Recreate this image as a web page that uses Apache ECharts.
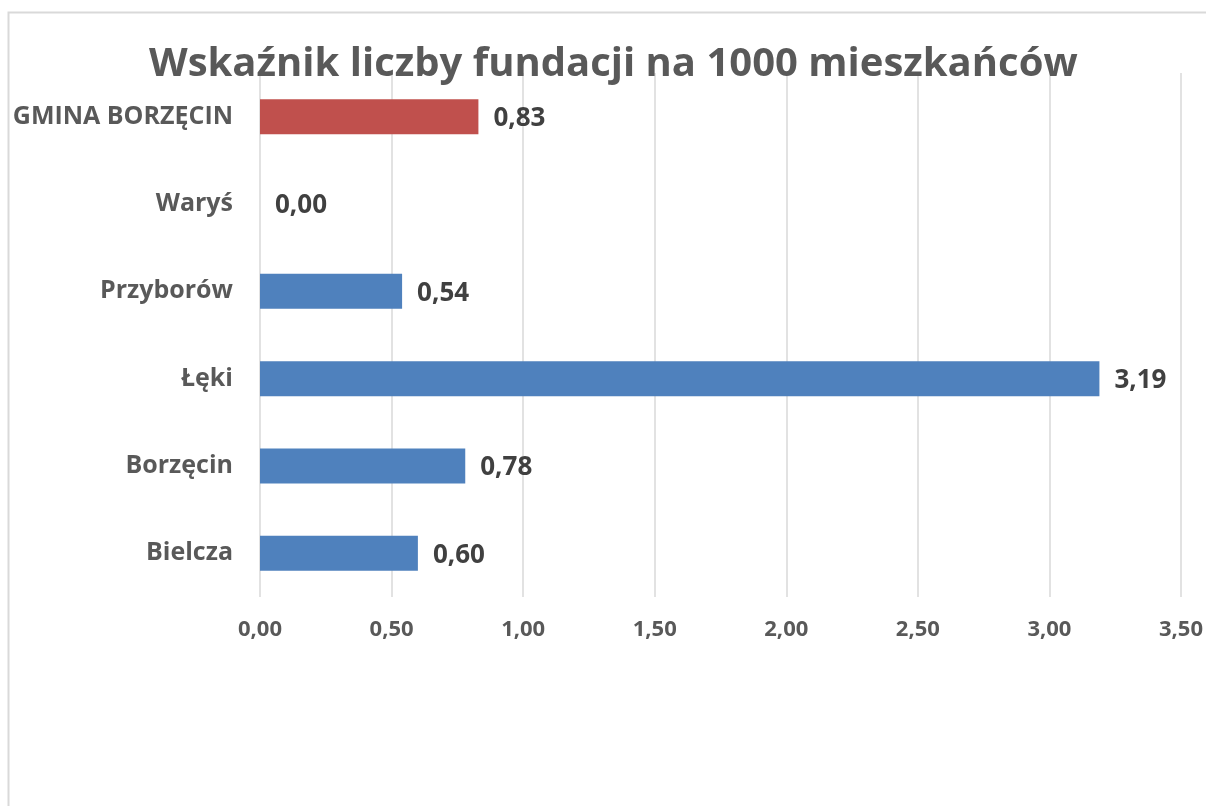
<!DOCTYPE html>
<html><head><meta charset="utf-8">
<script src="https://cdn.jsdelivr.net/npm/echarts@6/dist/echarts.min.js"></script>
<style>html,body{margin:0;padding:0;background:#fff}#c{width:1206px;height:806px}</style>
</head><body><div id="c"></div>
<script>
const title = 'Wskaźnik liczby fundacji na 1000 mieszkańców';
const categories = ['Bielcza', 'Borzęcin', 'Łęki', 'Przyborów', 'Waryś', 'GMINA BORZĘCIN'];
const values = [0.60, 0.78, 3.19, 0.54, 0.00, 0.83];
const highlightCategory = 'GMINA BORZĘCIN';

const fmt = v => v.toFixed(2).replace('.', ',');
const chart = echarts.init(document.getElementById('c'), null, {renderer: 'canvas'});
chart.setOption({
  animation: false,
  backgroundColor: '#fff',
  textStyle: {fontFamily: 'Open Sans'},
  title: {
    text: title, left: 144, top: 40,
    textStyle: {fontFamily: 'Open Sans', fontWeight: 'bold', fontSize: 40, color: '#595959'}
  },
  graphic: [{
    type: 'rect', silent: true, z: -1,
    shape: {x: 8.5, y: 12.5, width: 1300, height: 900},
    style: {fill: 'none', stroke: '#d9d9d9', lineWidth: 2}
  }],
  grid: {left: 260, right: 25, top: 73, bottom: 209, containLabel: false},
  xAxis: {
    type: 'value', min: 0, max: 3.5, interval: 0.5,
    axisLine: {show: false}, axisTick: {show: false},
    splitLine: {lineStyle: {color: '#d9d9d9', width: 1.5}},
    axisLabel: {formatter: fmt, margin: 22, fontSize: 22, fontWeight: 'bold', color: '#595959', fontFamily: 'Open Sans'}
  },
  yAxis: {
    type: 'category', data: categories,
    axisLine: {show: false}, axisTick: {show: false},
    axisLabel: {margin: 27, fontSize: 25, fontWeight: 'bold', color: '#595959', fontFamily: 'Open Sans'}
  },
  series: [{
    type: 'bar', barWidth: 35,
    data: values.map((v, i) => ({
      value: v,
      itemStyle: {color: categories[i] === highlightCategory ? '#c0504d' : '#4f81bd'}
    })),
    label: {
      show: true, position: 'right', distance: 15, offset: [0, 2], formatter: p => fmt(p.value),
      fontSize: 26, fontWeight: 'bold', color: '#404040', fontFamily: 'Open Sans'
    }
  }]
});
</script></body></html>
